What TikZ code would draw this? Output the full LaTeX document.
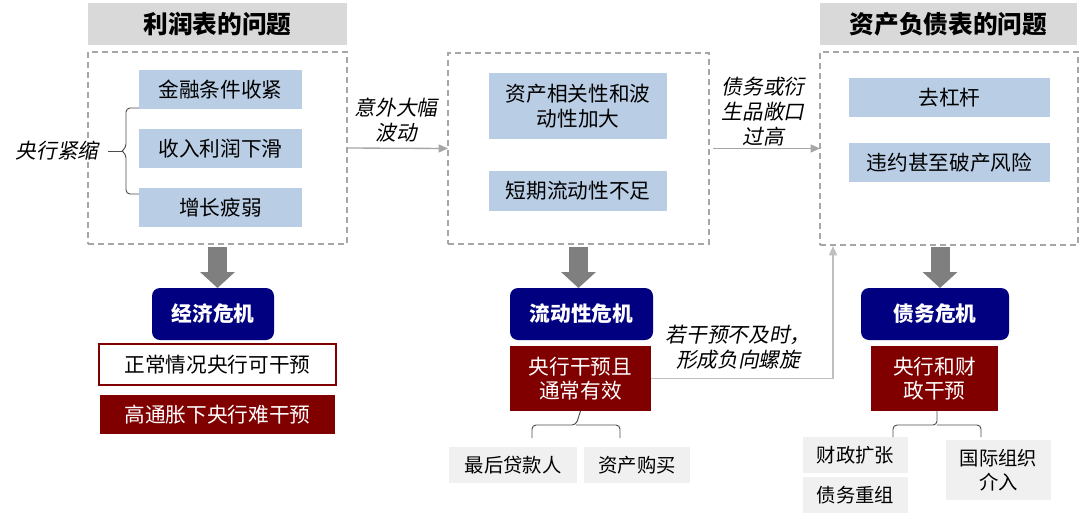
\documentclass[tikz,border=0pt]{standalone}
\usepackage{fontspec}
\setmainfont{Noto Sans CJK SC}
\newfontfamily\cjkit[FakeSlant=0.2]{Noto Sans CJK SC}
\usetikzlibrary{arrows.meta,calc}
\definecolor{hdrgray}{HTML}{D9D9D9}
\definecolor{lblue}{HTML}{B9CDE5}
\definecolor{navyc}{HTML}{000080}
\definecolor{dred}{HTML}{800000}
\definecolor{lgray}{HTML}{F0F0F0}
\definecolor{dashgray}{HTML}{A6A6A6}
\definecolor{arrgray}{HTML}{7F7F7F}
\definecolor{thingray}{HTML}{A6A6A6}
\definecolor{fbgray}{HTML}{BFBFBF}
% box from corners (pixel coordinates)
\newcommand\bx[7]{\node[#6, minimum width={(#4-#2)*0.75pt}, minimum height={(#5-#3)*0.75pt}, inner sep=0pt, outer sep=0pt] (#1) at ({(#2+#4)/2},{(#3+#5)/2}) {#7};}
\begin{document}
\begin{tikzpicture}[x=0.75pt,y=-0.75pt,
  hdr/.style={fill=hdrgray, font=\fontsize{18.5pt}{22pt}\selectfont\bfseries},
  dbox/.style={draw=dashgray, dash pattern=on 4.5pt off 3pt, line width=0.8pt},
  bluebox/.style={fill=lblue, font=\fontsize{15.5pt}{18.75pt}\selectfont, align=center},
  crisis/.style={fill=navyc, rounded corners=6pt, text=white, font=\fontsize{15.5pt}{18pt}\selectfont\bfseries},
  redbox/.style={fill=dred, text=white, font=\fontsize{15.5pt}{18pt}\selectfont, align=center},
  wbox/.style={draw=dred, line width=1.3pt, fill=white, font=\fontsize{15.5pt}{18pt}\selectfont},
  gbox/.style={fill=lgray, font=\fontsize{14.5pt}{18pt}\selectfont, align=center},
  lbl/.style={font=\cjkit\fontsize{15.5pt}{18.75pt}\selectfont, align=center, inner sep=0pt},
  blockarrow/.style={draw=arrgray, line width=14.25pt, -{Triangle[width=25.5pt,length=12pt]}},
  thinarrow/.style={draw=thingray, line width=1pt, -{Triangle[width=6pt,length=7pt]}},
  fbarrow/.style={draw=fbgray, line width=1pt, -{Triangle[width=6pt,length=7pt]}},
  bracel/.style={draw=black!70, line width=0.7pt, rounded corners=3pt}]
\useasboundingbox (0,0) rectangle (1080,518);

% ---------- left column ----------
\bx{hdrL}{88}{3}{347}{45}{hdr}{利润表的问题}
\bx{boxL}{88}{52}{347}{244}{dbox}{}
\bx{bL1}{139}{70}{302}{109}{bluebox}{金融条件收紧}
\bx{bL2}{139}{129}{302}{168}{bluebox}{收入利润下滑}
\bx{bL3}{139}{188}{302}{227}{bluebox}{增长疲弱}
\node[lbl] (tight) at (57,151) {央行紧缩};
\coordinate (brt) at (139,108);
\coordinate (brb) at (139,194);
\coordinate (brtip) at (122,151);
\draw[bracel] (brt) -- (126,108) -- (126,148) -- (brtip);
\draw[bracel] (brb) -- (126,194) -- (126,154) -- (brtip);
\draw[draw=black!70, line width=0.7pt] ([xshift=7pt]tight.east) -- (brtip);

\bx{econ}{152}{288}{274}{340}{crisis}{经济危机}
\bx{normal}{99}{344}{336}{385}{wbox}{正常情况央行可干预}
\bx{hi}{100}{395}{335}{434}{redbox}{高通胀下央行难干预}
\draw[blockarrow] ([yshift=-2.25pt]boxL.south) -- (boxL.south |- econ.north);

% ---------- middle column ----------
\bx{boxM}{448}{53}{709}{244}{dbox}{}
\bx{bM1}{489}{73}{667}{139}{bluebox}{资产相关性和波\\动性加大}
\bx{bM2}{489}{171}{667}{211}{bluebox}{短期流动性不足}
\node[lbl] (l1) at (396,120.5) {意外大幅\\波动};
\draw[thinarrow] (boxL.east) -- (boxM.west);

\bx{liq}{510}{288}{653}{340}{crisis}{流动性危机}
\bx{midint}{510}{346}{651}{411}{redbox}{央行干预且\\通常有效}
\draw[blockarrow] ([yshift=-2.25pt]boxM.south) -- (boxM.south |- liq.north);
\bx{lender}{449}{447}{577}{483}{gbox}{最后贷款人}
\bx{buy}{584}{447}{690}{483}{gbox}{资产购买}
\coordinate (mbl) at (532,438);
\coordinate (mbr) at (620,438);
\draw[bracel] (midint.south) -- (576,425) -| (mbl);
\draw[bracel] (576,425) -| (mbr);

% ---------- right column ----------
\bx{hdrR}{820}{3}{1077}{45}{hdr}{资产负债表的问题}
\bx{boxR}{820}{52}{1078}{245}{dbox}{}
\bx{bR1}{849}{78}{1050}{117}{bluebox}{去杠杆}
\bx{bR2}{849}{143}{1050}{182}{bluebox}{违约甚至破产风险}
\node[lbl] (l2) at (763,112) {债务或衍\\生品敞口\\过高};
\draw[thinarrow] ([xshift=3pt]boxM.east) -- (boxR.west);

\bx{debt}{861}{288}{1009}{340}{crisis}{债务危机}
\bx{rint}{871}{346}{998}{411}{redbox}{央行和财\\政干预}
\coordinate (ra) at (940,247);
\draw[blockarrow] (ra) -- (ra |- debt.north);
\bx{fexp}{803}{437}{908}{473}{gbox}{财政扩张}
\bx{restr}{803}{477}{908}{513}{gbox}{债务重组}
\bx{intl}{946}{440}{1051}{500}{gbox}{国际组织\\介入}
\coordinate (rbl) at (893,437);
\coordinate (rbr) at (981,437);
\draw[bracel] (rint.south -| 937,0) -- (937,425) -| (rbl);
\draw[bracel] (937,425) -| (rbr);

% ---------- feedback ----------
\coordinate (fb) at (833,246);
\draw[fbarrow] (midint.east) -| (fb);
\node[lbl] (fbt) at (738,347.5) {若干预不及时，\\形成负向螺旋};
\end{tikzpicture}
\end{document}
